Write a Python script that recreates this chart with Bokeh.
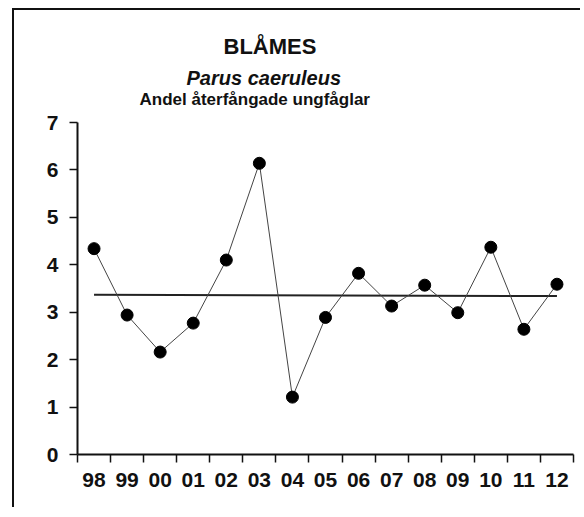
from bokeh.plotting import figure
from bokeh.models import Title, FixedTicker, Range1d
from bokeh.embed import file_html
from bokeh.resources import INLINE

years = ["98", "99", "00", "01", "02", "03", "04", "05", "06", "07", "08", "09", "10", "11", "12"]
values = [4.34, 2.94, 2.16, 2.77, 4.10, 6.14, 1.21, 2.89, 3.82, 3.13, 3.57, 2.99, 4.37, 2.64, 3.59]
trend_values = [3.37, 3.34]
y_ticks = [0, 1, 2, 3, 4, 5, 6, 7]

FONT = "Liberation Sans"
W, H = 568, 499

idx = list(range(len(years)))

p = figure(width=W, height=H, output_backend="svg", toolbar_location=None,
           x_range=Range1d(-0.5, len(years) - 0.5), y_range=Range1d(0, 7),
           min_border_left=63, min_border_right=9, min_border_top=112, min_border_bottom=55)
p.margin = (8, 0, 0, 12)
p.styles = {"border-left": "2px solid #111", "border-top": "2px solid #111"}
p.outline_line_color = None
p.xgrid.visible = False
p.ygrid.visible = False
p.background_fill_color = "white"
p.border_fill_color = "white"

# trend line
p.line([idx[0], idx[-1]], trend_values, line_color="#222222", line_width=2)
# series
p.line(idx, values, line_color="#444444", line_width=1)
p.scatter(idx, values, size=12, fill_color="black", line_color="black")

# x axis
xa = p.xaxis[0]
xa.ticker = FixedTicker(ticks=idx, minor_ticks=[i - 0.5 for i in range(len(years) + 1)])
xa.major_label_overrides = {i: y for i, y in enumerate(years)}
xa.major_tick_line_color = None
xa.minor_tick_in = 0
xa.minor_tick_out = 8
xa.minor_tick_line_color = "#111111"
xa.minor_tick_line_width = 1.5
xa.axis_line_color = "#111111"
xa.axis_line_width = 2
xa.major_label_text_font = FONT
xa.major_label_text_font_style = "bold"
xa.major_label_text_font_size = "21px"
xa.major_label_text_color = "#111111"
xa.major_label_standoff = 10

ya = p.yaxis[0]
ya.ticker = FixedTicker(ticks=y_ticks)
ya.minor_tick_line_color = None
ya.major_tick_in = 0
ya.major_tick_out = 8
ya.major_tick_line_color = "#111111"
ya.major_tick_line_width = 1.5
ya.axis_line_color = "#111111"
ya.axis_line_width = 2
ya.major_label_text_font = FONT
ya.major_label_text_font_style = "bold"
ya.major_label_text_font_size = "21px"
ya.major_label_text_color = "#111111"
ya.major_label_standoff = 11

# titles (first added sits closest to the plot)
p.add_layout(Title(text="Andel återfångade ungfåglar", align="left", offset=62,
                   text_font=FONT, text_font_style="bold", text_font_size="17px",
                   text_color="#111111", standoff=28), "above")
p.add_layout(Title(text="Parus caeruleus", align="left", offset=109,
                   text_font=FONT, text_font_style="bold italic", text_font_size="20px",
                   text_color="#111111", standoff=-30), "above")
p.add_layout(Title(text="BLÅMES", align="left", offset=146,
                   text_font=FONT, text_font_style="bold", text_font_size="22px",
                   text_color="#111111", standoff=29), "above")

open("out.html", "w").write(file_html(p, INLINE))
